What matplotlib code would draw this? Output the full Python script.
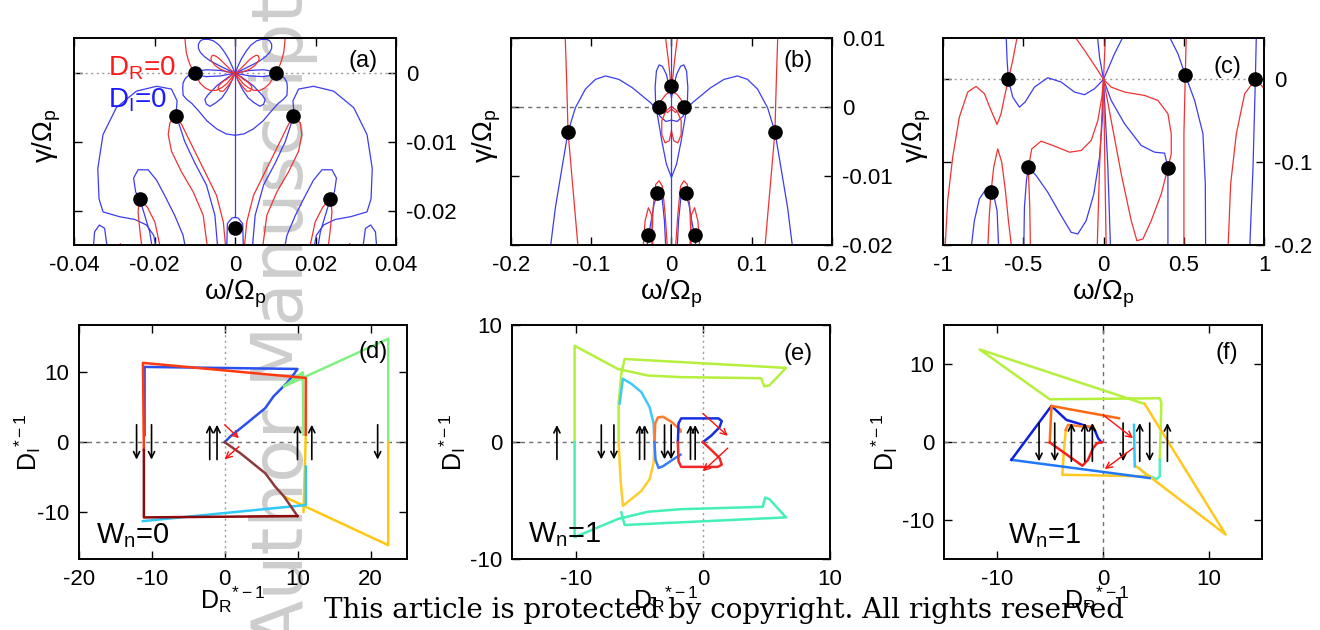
import numpy as np
import matplotlib.pyplot as plt

plt.rcParams['font.family'] = 'Liberation Sans'
plt.rcParams['mathtext.fontset'] = 'custom'
plt.rcParams['mathtext.rm'] = 'Liberation Sans'
plt.rcParams['mathtext.it'] = 'Liberation Sans'
plt.rcParams['mathtext.sf'] = 'Liberation Sans'
plt.rcParams['axes.unicode_minus'] = False

RED = '#f03232'
BLUE = '#3c3cf0'

# ---------------- (a) zero lines of D_R and D_I, left half (symmetric in omega)
a_red = [
    [(-0.0125, 0.0056), (-0.0123, 0.0040), (-0.0121, 0.0030), (-0.0116, 0.0019), (-0.0111, 0.0011),
     (-0.0100, 0.0), (-0.0093, -0.0008), (-0.0086, -0.0015), (-0.0075, -0.0021), (-0.0062, -0.0025),
     (-0.0047, -0.0025), (-0.0033, -0.0021), (-0.0020, -0.0015), (-0.0012, -0.0009), (0.0, 0.0)],
    [(0.0, 0.0), (-0.0013, 0.0006), (-0.0025, 0.0013), (-0.0037, 0.0020), (-0.0046, 0.0024),
     (-0.0053, 0.0026), (-0.0058, 0.0025), (-0.0060, 0.0021), (-0.0058, 0.0017), (-0.0049, 0.0011),
     (-0.0037, 0.0006), (-0.0020, 0.0002), (0.0, 0.0)],
    [(0.0, 0.0), (-0.0011, -0.0004), (-0.0021, -0.0009), (-0.0030, -0.0012), (-0.0037, -0.0016),
     (-0.0041, -0.0019), (-0.0042, -0.0023), (-0.0037, -0.0026), (-0.0029, -0.0026), (-0.0018, -0.0019),
     (-0.0008, -0.0011), (0.0, 0.0)],
    [(-0.0067, -0.026), (-0.0079, -0.0206), (-0.0104, -0.0172), (-0.0133, -0.0143), (-0.0158, -0.0113),
     (-0.0166, -0.0089), (-0.0162, -0.0072), (-0.0147, -0.0062), (-0.0133, -0.0074), (-0.0112, -0.0099),
     (-0.0079, -0.0138), (-0.0046, -0.0177), (-0.0029, -0.0216), (-0.0022, -0.026)],
    [(-0.0230, -0.026), (-0.0237, -0.0225), (-0.0241, -0.0201), (-0.0237, -0.0182), (-0.0218, -0.0194),
     (-0.0199, -0.0216), (-0.0183, -0.026)],
    [(-0.0295, -0.026), (-0.0285, -0.0247), (-0.0274, -0.026)],
]
a_blue = [
    [(0.0, 0.0), (-0.0037, 0.0004), (-0.0071, 0.0005), (-0.0091, 0.0003), (-0.0100, 0.0),
     (-0.0091, -0.0003), (-0.0071, -0.0005), (-0.0037, -0.0004), (0.0, 0.0)],
    [(0.0, 0.0), (-0.0015, 0.0004), (-0.0029, 0.0008), (-0.0046, 0.0013), (-0.0062, 0.0018),
     (-0.0076, 0.0024), (-0.0086, 0.0030), (-0.0091, 0.0036), (-0.0091, 0.0042), (-0.0086, 0.0047),
     (-0.0079, 0.0049), (-0.0066, 0.0049), (-0.0054, 0.0047), (-0.0040, 0.0041), (-0.0029, 0.0033),
     (-0.0016, 0.0021), (-0.0008, 0.0011), (0.0, 0.0)],
    [(0.0, 0.0), (-0.0015, -0.0005), (-0.0029, -0.0011), (-0.0045, -0.0018), (-0.0058, -0.0026),
     (-0.0068, -0.0032), (-0.0075, -0.0038), (-0.0071, -0.0045), (-0.0062, -0.0048), (-0.0048, -0.0043),
     (-0.0033, -0.0036), (-0.0020, -0.0025), (-0.0012, -0.0016), (0.0, 0.0)],
    [(-0.0100, 0.0), (-0.0115, -0.0003), (-0.0124, -0.0008), (-0.0129, -0.0014), (-0.0130, -0.0021),
     (-0.0129, -0.0032), (-0.0120, -0.0038), (-0.0107, -0.0044), (-0.0090, -0.0055), (-0.0070, -0.0069),
     (-0.0045, -0.0081), (-0.0022, -0.0088), (0.0, -0.0090)],
    [(-0.0194, -0.026), (-0.0202, -0.0235), (-0.0220, -0.0220), (-0.0249, -0.0212), (-0.0287, -0.0208),
     (-0.0328, -0.0201), (-0.0338, -0.0182), (-0.0341, -0.0138), (-0.0328, -0.0089), (-0.0295, -0.0050),
     (-0.0245, -0.0026), (-0.0195, -0.0019), (-0.0158, -0.0023), (-0.0144, -0.0040), (-0.0147, -0.0062),
     (-0.0139, -0.0074), (-0.0125, -0.0099), (-0.0100, -0.0130), (-0.0071, -0.0162), (-0.0050, -0.0206),
     (-0.0042, -0.026)],
    [(-0.0121, -0.026), (-0.0129, -0.0235), (-0.0150, -0.0206), (-0.0175, -0.0177), (-0.0195, -0.0155),
     (-0.0216, -0.0140), (-0.0241, -0.0140), (-0.0252, -0.0152), (-0.0247, -0.0172), (-0.0237, -0.0182),
     (-0.0227, -0.0201), (-0.0212, -0.0230), (-0.0204, -0.026)],
    [(-0.0353, -0.026), (-0.0349, -0.0230), (-0.0337, -0.0220), (-0.0324, -0.0225), (-0.0316, -0.026)],
    [(-0.0021, -0.026), (-0.0019, -0.0218), (-0.0008, -0.0210), (0.0, -0.0209)],
]
a_axis = [(0.0, 0.006), (0.0, -0.0209)]
a_roots = [(-0.0100, 0.0), (0.0101, 0.0), (-0.0147, -0.0062), (0.0145, -0.0062),
           (-0.0237, -0.0182), (0.0237, -0.0182), (0.0, -0.0224)]

# ---------------- (b) left half, symmetric in omega
b_red = [
    [(-0.1325, 0.0105), (-0.1305, 0.0033), (-0.1289, -0.0036), (-0.1163, -0.0205)],
    [(-0.0079, 0.0105), (-0.0038, 0.0067), (-0.0008, 0.0033), (0.0, 0.0030)],
    [(0.0, 0.0023), (-0.0071, 0.0018), (-0.0129, 0.0009), (-0.0113, -0.0003), (-0.0050, -0.0008), (0.0, -0.0003)],
    [(0.0, 0.0001), (-0.0071, -0.0006), (-0.0121, -0.0020), (-0.0121, -0.0040), (-0.0079, -0.0052),
     (-0.0029, -0.0049), (0.0, -0.0035)],
    [(-0.0354, -0.0205), (-0.0329, -0.0165), (-0.0288, -0.0146), (-0.0250, -0.0156), (-0.0229, -0.0205)],
    [(-0.0246, -0.0205), (-0.0229, -0.0146), (-0.0196, -0.0112), (-0.0154, -0.0107), (-0.0113, -0.0115),
     (-0.0079, -0.0156), (-0.0050, -0.0205)],
]
b_blue = [
    [(-0.1510, -0.0205), (-0.1447, -0.0146), (-0.1364, -0.0088), (-0.1289, -0.0036), (-0.1197, -0.0001),
     (-0.1072, 0.0026), (-0.0947, 0.0040), (-0.0822, 0.0045), (-0.0655, 0.0040), (-0.0488, 0.0028),
     (-0.0342, 0.0014), (-0.0259, 0.0006), (-0.0188, -0.0003), (-0.0163, -0.0020), (-0.0121, -0.0049),
     (-0.0063, -0.0083), (0.0, -0.0102)],
    [(0.0, 0.0014), (-0.0063, 0.0047), (-0.0113, 0.0059), (-0.0154, 0.0061), (-0.0188, 0.0052),
     (-0.0204, 0.0028), (-0.0196, 0.0001), (-0.0146, -0.0013), (-0.0071, -0.0021), (0.0, -0.0019)],
    [(-0.0309, -0.0205), (-0.0271, -0.0177), (-0.0217, -0.0141), (-0.0167, -0.0122), (-0.0121, -0.0127),
     (-0.0088, -0.0165), (-0.0071, -0.0205)],
]
b_axis = [(0.0, 0.0105), (0.0, -0.0205)]
b_roots = [(-0.1288, -0.0036), (0.1284, -0.0036), (-0.0154, 0.0), (0.0158, 0.0), (0.0, 0.0030),
           (-0.0175, -0.0124), (0.0179, -0.0124), (-0.0288, -0.0186), (0.0296, -0.0186)]

# ---------------- (c) full range, no symmetry
c_red = [
    [(-0.9875, -0.205), (-0.9709, -0.1464), (-0.9397, -0.094), (-0.8981, -0.0456), (-0.8462, -0.0153),
     (-0.7942, -0.0085), (-0.7422, -0.0173), (-0.7006, -0.0375), (-0.6632, -0.0544), (-0.6383, -0.0415),
     (-0.6175, -0.0214), (-0.5925, 0.0), (-0.5655, 0.023), (-0.5343, 0.055)],
    [(-0.7214, -0.205), (-0.711, -0.1625), (-0.7006, -0.1355), (-0.684, -0.106), (-0.659, -0.0839),
     (-0.6341, -0.1), (-0.6112, -0.1343), (-0.5925, -0.1706), (-0.5717, -0.205)],
    [(-0.4553, -0.205), (-0.4595, -0.1544), (-0.4657, -0.1222), (-0.4678, -0.106), (-0.447, -0.0839),
     (-0.3888, -0.0746), (-0.316, -0.0798), (-0.2121, -0.0879), (-0.1393, -0.0859), (-0.0769, -0.0738),
     (-0.0353, -0.0496), (-0.0104, -0.0214), (0.0, 0.0)],
    [(-0.1913, 0.055), (-0.1185, 0.0351), (-0.0353, 0.0109), (0.0, 0.0), (0.0478, -0.0093), (0.131, -0.0153),
     (0.2557, -0.0194), (0.3389, -0.0254), (0.4012, -0.0415), (0.422, -0.0657), (0.422, -0.0899),
     (0.4012, -0.1069)],
    [(0.0, 0.0), (0.0478, -0.0496), (0.1102, -0.1141), (0.1726, -0.1706), (0.2079, -0.1948), (0.2453, -0.1927),
     (0.2973, -0.1706), (0.3597, -0.1383), (0.4012, -0.1069)],
    [(0.0, 0.0), (-0.0249, -0.106), (-0.0395, -0.205)],
    [(0.0, 0.0), (0.0166, -0.205)],
    [(0.0, 0.0), (0.0125, 0.055)],
    [(0.5156, 0.055), (0.5094, 0.0052), (0.501, -0.0657), (0.501, -0.205)],
    [(0.7755, -0.205), (0.7921, -0.1262), (0.8274, -0.0657), (0.8794, -0.0173), (0.946, 0.0),
     (0.9938, -0.0093), (1.025, -0.0254)],
]
c_blue = [
    [(-0.6071, 0.055), (-0.6008, 0.023), (-0.5925, 0.0), (-0.5655, -0.0214), (-0.5239, -0.0335),
     (-0.4886, -0.0274), (-0.4304, -0.0093), (-0.3472, 0.002), (-0.264, -0.0032), (-0.1809, -0.0153),
     (-0.1185, -0.0185), (-0.0561, -0.0113), (0.0, 0.0)],
    [(-0.8254, -0.205), (-0.8046, -0.1706), (-0.7734, -0.1444), (-0.7318, -0.1323), (-0.6902, -0.1343),
     (-0.6632, -0.1585), (-0.6528, -0.205)],
    [(-0.4969, -0.205), (-0.4927, -0.1544), (-0.4802, -0.1222), (-0.4678, -0.106), (-0.42, -0.1161),
     (-0.3472, -0.1363), (-0.264, -0.1645), (-0.2017, -0.1847), (-0.1601, -0.1867), (-0.1081, -0.1706),
     (-0.0603, -0.1383), (-0.0249, -0.094), (-0.0062, -0.0456), (0.0, 0.0)],
    [(0.0, 0.0), (0.0478, -0.0254), (0.131, -0.0536), (0.2349, -0.0798), (0.3181, -0.0879), (0.3805, -0.0891),
     (0.4012, -0.1069), (0.4012, -0.1464), (0.4012, -0.205)],
    [(0.0, 0.0), (0.027, -0.106), (0.0437, -0.205)],
    [(0.0, 0.0), (-0.0249, 0.027), (-0.0395, 0.055)],
    [(0.0, 0.0), (0.0686, 0.031), (0.131, 0.055)],
    [(0.4012, 0.055), (0.4636, 0.031), (0.5094, 0.0052), (0.5676, -0.0254), (0.6195, -0.0657),
     (0.6341, -0.1262), (0.6362, -0.205)],
    [(0.9522, 0.055), (0.946, 0.0), (0.9314, -0.106), (0.9106, -0.205)],
]
c_roots = [(-0.5925, 0.0), (0.5094, 0.0052), (0.946, 0.0), (-0.4678, -0.106), (0.4012, -0.1069),
           (-0.7006, -0.1355)]

# ---------------- (d)-(f) trajectories of 1/D*, each piece with its colour
d_paths = [
    ('#2a50f0', [(0, 0), (0.77, 0.82), (3.05, 2.73), (5.56, 4.89), (6.69, 6.57), (8.52, 8.49), (9.43, 9.69),
                 (9.97, 10.50), (-10.97, 10.79), (-10.97, 1.0)]),
    ('#80f080', [(8.15, 8.01), (10.70, 10.02), (10.79, 1.06)]),
    ('#80f080', [(8.15, 8.01), (22.40, 14.82), (22.40, 0.0)]),
    ('#ffc810', [(8.15, -7.82), (22.40, -14.77), (22.40, 0.0)]),
    ('#ffc810', [(11.11, 1.06), (10.79, -9.98)]),
    ('#30c8f8', [(-11.20, -11.32), (11.11, -9.02), (11.11, -3.50)]),
    ('#ff3a10', [(-11.07, -1.10), (-11.20, 11.37), (11.11, 9.21), (11.11, 1.06)]),
    ('#8e3a3a', [(0, 0), (2.14, -1.58), (5.56, -4.46), (6.92, -6.38), (8.15, -7.82), (9.97, -10.60)]),
    ('#8c0a0a', [(9.97, -10.60), (-11.07, -10.79), (-11.07, -1.10)]),
]
d_up = [-2.05, -1.05, 9.97, 11.93]
d_down = [-12.07, -10.02, 20.95]
d_arrow_y = 2.5
d_red_arrows = [((0.0, 2.49), (1.95, 0.57)), ((1.95, -0.63), (0.0, -2.45))]

e_paths = [
    ('#b4f03c', [(-10.08, 0.0), (-10.08, 8.23), (-6.68, 6.25), (-4.32, 5.69), (-1.70, 5.55), (4.58, 5.46),
                 (4.84, 4.76), (5.24, 4.85), (6.54, 6.34), (-6.15, 7.10), (-6.41, 5.83), (-6.62, 3.30),
                 (-6.62, 0.0)]),
    ('#44f0b4', [(-10.08, 0.0), (-10.08, -8.11), (-6.68, -6.56), (-4.32, -5.94), (-1.70, -5.72), (4.71, -5.52),
                 (4.90, -4.73), (5.24, -4.87), (6.54, -6.42), (-6.15, -7.07), (-6.41, -6.0)]),
    ('#40c8f8', [(-6.54, 3.30), (-6.28, 5.41), (-5.63, 4.99), (-4.84, 4.28), (-4.19, 3.01), (-3.87, 1.61),
                 (-3.80, 0.0)]),
    ('#ffcc30', [(-3.80, 0.0), (-3.87, -1.77), (-4.19, -3.18), (-4.84, -4.17), (-5.63, -4.87), (-6.28, -5.44),
                 (-6.47, -3.18), (-6.62, 0.0)]),
    ('#ff7a30', [(-3.80, 0.0), (-3.74, 1.61), (-3.53, 2.11), (-3.14, 2.17), (-2.49, 1.75), (-1.75, 1.04),
                 (-1.75, 0.9)]),
    ('#3a7cf8', [(-3.80, 0.0), (-3.72, -1.49), (-3.48, -2.20), (-3.14, -2.06), (-2.36, -1.49), (-1.75, -1.07)]),
    ('#1430e0', [(0.0, 0.0), (0.65, 0.54), (1.31, 1.27), (1.49, 1.80), (1.23, 2.03), (-1.70, 2.03),
                 (-1.91, 1.61), (-1.96, 0.0)]),
    ('#f02828', [(0.0, 0.0), (0.65, -0.65), (1.31, -1.35), (1.49, -1.92), (1.18, -2.11), (-1.70, -2.11),
                 (-1.91, -1.63), (-1.96, 0.0)]),
]
e_up = [-11.47, -4.97, -4.58, -0.97, -0.60]
e_down = [-7.98, -6.99, -3.01, -2.49]
e_arrow_y = 1.47
e_red_arrows = [((0.0, 2.45), (1.96, 0.54)), ((1.96, -0.51), (0.0, -2.48))]

f_paths = [
    ('#b4f03c', [(3.93, 4.89), (-11.64, 11.87), (-5.03, 5.49), (5.35, 5.62), (5.50, 5.06), (5.41, 0.30),
                 (5.35, -2.26)]),
    ('#50f0c0', [(5.35, -2.26), (5.35, -4.38), (5.03, -4.72), (4.09, -4.17), (3.40, -3.32)]),
    ('#ffc820', [(3.93, 4.89), (11.57, -11.83), (3.14, -3.11)]),
    ('#ffc820', [(4.40, -4.38), (-3.84, -4.17), (-3.71, -1.40), (-3.52, 1.57)]),
    ('#2078f8', [(-8.65, -2.26), (4.40, -4.60)]),
    ('#1020e0', [(-0.16, 0.0), (-0.47, 0.51), (-0.79, 1.57), (-1.26, 1.91), (-2.20, 2.34), (-3.46, 2.85),
                 (-4.87, 4.64), (-8.65, -2.26)]),
    ('#ff6a10', [(1.51, 3.06), (-4.87, 4.64), (-5.03, -0.04)]),
    ('#ff8030', [(-3.52, 1.57), (-3.30, 2.21), (-1.89, 2.0), (-0.94, 2.0)]),
    ('#f02020', [(-5.03, -0.04), (-1.95, -3.02), (-1.42, -2.26), (-0.94, -0.77), (-0.57, -0.13), (-0.09, 0.0)]),
    ('#30c8f8', [(2.92, 2.21), (2.99, -3.11)]),
]
f_up = [-2.99, -1.73, -1.01, 3.46, 6.07]
f_down = [-6.04, -4.56, 1.89, 4.40]
f_arrow_y = 2.45
f_red_arrows = [((0.0, 3.49), (2.83, 0.51)), ((2.83, -0.77), (0.16, -3.45))]


def frame(ax, xt, xl, yt, yl, right):
    ax.set_facecolor('none')
    ax.set_xticks(xt)
    ax.set_xticklabels(xl)
    ax.set_yticks(yt)
    ax.set_yticklabels(yl)
    ax.tick_params(direction='in', length=6, width=1, top=True, right=True, left=True,
                   labelsize=16, pad=7)
    if right:
        ax.tick_params(labelleft=False, labelright=True)
    for s in ax.spines.values():
        s.set_linewidth(1.4)


def zero_lines(ax, reds, blues, axis, roots, mirror):
    for curves, col in ((blues, BLUE), (reds, RED)):
        for c in curves:
            x, y = np.array(c).T
            ax.plot(x, y, color=col, lw=0.9)
            if mirror:
                ax.plot(-x, y, color=col, lw=0.9)
    if axis is not None:
        x, y = np.array(axis).T
        ax.plot(x, y, color=BLUE, lw=0.9)
    x, y = np.array(roots).T
    ax.plot(x, y, 'o', color='k', ms=9.5, zorder=5)


def trajectories(ax, paths, up, down, ay, red_arrows):
    for col, pts in paths:
        x, y = np.array(pts).T
        ax.plot(x, y, color=col, lw=1.8, solid_joinstyle='round')
    for xa in up:
        ax.annotate('', xy=(xa, ay), xytext=(xa, -ay),
                    arrowprops=dict(arrowstyle='->', color='k', lw=1.2, mutation_scale=11,
                                    shrinkA=0, shrinkB=0))
    for xa in down:
        ax.annotate('', xy=(xa, -ay), xytext=(xa, ay),
                    arrowprops=dict(arrowstyle='->', color='k', lw=1.2, mutation_scale=11,
                                    shrinkA=0, shrinkB=0))
    for tail, head in red_arrows:
        ax.annotate('', xy=head, xytext=tail,
                    arrowprops=dict(arrowstyle='->', color='#ff1010', lw=1.0, mutation_scale=11,
                                    shrinkA=0, shrinkB=0))


fig = plt.figure(figsize=(13.2, 6.3), dpi=100)

# watermark sits underneath the panels
fig.text(303 / 1320, 1.008, 'Author Manuscript', rotation=90, rotation_mode='anchor',
         ha='right', va='baseline', fontsize=51, color='#cdcdcd', family='DejaVu Sans', zorder=-1)

omega_lbl = r'ω/Ω$_\mathrm{p}$'
gamma_lbl = r'γ/Ω$_\mathrm{p}$'
dr_lbl = r'$\mathrm{D}_\mathrm{R}{}^{*-1}$'
di_lbl = r'$\mathrm{D}_\mathrm{I}{}^{*-1}$'

# (a)
ax = fig.add_axes([0.0561, 0.6111, 0.2439, 0.3286])
ax.axhline(0, color='#9a9a9a', lw=1, ls=(0, (1.5, 2.5)))
zero_lines(ax, a_red, a_blue, a_axis, a_roots, True)
ax.set_xlim(-0.04, 0.04)
ax.set_ylim(-0.0249, 0.0051)
frame(ax, [-0.04, -0.02, 0, 0.02, 0.04], ['-0.04', '-0.02', '0', '0.02', '0.04'],
      [0, -0.01, -0.02], ['0', '-0.01', '-0.02'], True)
ax.text(-0.0316, -0.0004, r'D$_\mathrm{R}$=0', color='#ff1a1a', fontsize=20, va='baseline')
ax.text(-0.0316, -0.0050, r'D$_\mathrm{I}$=0', color='#1a1aff', fontsize=20, va='baseline')
ax.text(0.0318, 0.0018, '(a)', fontsize=17, ha='center', va='center')
ax.set_xlabel(omega_lbl, fontsize=20)
ax.set_ylabel(gamma_lbl, fontsize=20)
ax.xaxis.set_label_coords(0.5, -0.16)
ax.yaxis.set_label_coords(-0.035, 0.53)

# (b)
ax = fig.add_axes([0.3871, 0.6111, 0.2432, 0.3286])
ax.axhline(0, color='#707070', lw=1, ls=(0, (3, 3)))
zero_lines(ax, b_red, b_blue, b_axis, b_roots, True)
ax.set_xlim(-0.2, 0.2)
ax.set_ylim(-0.02, 0.01)
frame(ax, [-0.2, -0.1, 0, 0.1, 0.2], ['-0.2', '-0.1', '0', '0.1', '0.2'],
      [0.01, 0, -0.01, -0.02], ['0.01', '0', '-0.01', '-0.02'], True)
ax.text(0.1576, 0.0067, '(b)', fontsize=17, ha='center', va='center')
ax.set_xlabel(omega_lbl, fontsize=20)
ax.set_ylabel(gamma_lbl, fontsize=20)
ax.xaxis.set_label_coords(0.5, -0.16)
ax.yaxis.set_label_coords(-0.025, 0.53)

# (c)
ax = fig.add_axes([0.7144, 0.6111, 0.2432, 0.3286])
ax.axhline(0, color='#9a9a9a', lw=1, ls=(0, (1.5, 2.5)))
zero_lines(ax, c_red, c_blue, None, c_roots, False)
ax.set_xlim(-1, 1)
ax.set_ylim(-0.2, 0.05)
frame(ax, [-1, -0.5, 0, 0.5, 1], ['-1', '-0.5', '0', '0.5', '1'],
      [0, -0.1, -0.2], ['0', '-0.1', '-0.2'], True)
ax.text(0.771, 0.0149, '(c)', fontsize=17, ha='center', va='center')
ax.set_xlabel(omega_lbl, fontsize=20)
ax.set_ylabel(gamma_lbl, fontsize=20)
ax.xaxis.set_label_coords(0.5, -0.16)
ax.yaxis.set_label_coords(-0.031, 0.53)

# (d)
ax = fig.add_axes([0.0596, 0.1122, 0.2489, 0.3719])
ax.axhline(0, color='#707070', lw=1, ls=(0, (3, 3)))
ax.axvline(0, color='#9a9a9a', lw=1, ls=(0, (1.5, 2.5)))
trajectories(ax, d_paths, d_up, d_down, d_arrow_y, d_red_arrows)
ax.set_xlim(-20, 25)
ax.set_ylim(-16.8, 16.8)
frame(ax, [-20, -10, 0, 10, 20], ['-20', '-10', '0', '10', '20'],
      [-10, 0, 10], ['-10', '0', '10'], False)
ax.text(20.36, 12.95, '(d)', fontsize=17, ha='center', va='center')
ax.text(-17.67, -14.53, r'W$_\mathrm{n}$=0', fontsize=21, va='baseline')
ax.set_xlabel(dr_lbl, fontsize=18)
ax.set_ylabel(di_lbl, fontsize=18)
ax.xaxis.set_label_coords(0.47, -0.105)
ax.yaxis.set_label_coords(-0.109, 0.5)

# (e)
ax = fig.add_axes([0.3879, 0.1122, 0.2409, 0.3719])
ax.axhline(0, color='#707070', lw=1, ls=(0, (3, 3)))
ax.axvline(0, color='#9a9a9a', lw=1, ls=(0, (1.5, 2.5)))
trajectories(ax, e_paths, e_up, e_down, e_arrow_y, e_red_arrows)
ax.set_xlim(-15, 10)
ax.set_ylim(-10, 10)
frame(ax, [-10, 0, 10], ['-10', '0', '10'], [-10, 0, 10], ['-10', '0', '10'], False)
ax.text(7.46, 7.52, '(e)', fontsize=17, ha='center', va='center')
ax.text(-13.74, -8.54, r'W$_\mathrm{n}$=1', fontsize=21, va='baseline')
ax.set_xlabel(dr_lbl, fontsize=18)
ax.set_ylabel(di_lbl, fontsize=18)
ax.xaxis.set_label_coords(0.485, -0.105)
ax.yaxis.set_label_coords(-0.14, 0.5)

# (f)
ax = fig.add_axes([0.7152, 0.1122, 0.2409, 0.3719])
ax.axhline(0, color='#707070', lw=1, ls=(0, (3, 3)))
ax.axvline(0, color='#707070', lw=1, ls=(0, (3, 3)))
trajectories(ax, f_paths, f_up, f_down, f_arrow_y, f_red_arrows)
ax.set_xlim(-15, 15)
ax.set_ylim(-15, 15)
frame(ax, [-10, 0, 10], ['-10', '0', '10'], [-10, 0, 10], ['-10', '0', '10'], False)
ax.text(11.64, 11.36, '(f)', fontsize=17, ha='center', va='center')
ax.text(-8.96, -12.98, r'W$_\mathrm{n}$=1', fontsize=21, va='baseline')
ax.set_xlabel(dr_lbl, fontsize=18)
ax.set_ylabel(di_lbl, fontsize=18)
ax.xaxis.set_label_coords(0.48, -0.105)
ax.yaxis.set_label_coords(-0.14, 0.5)

fig.text(0.5485, 0.019, 'This article is protected by copyright. All rights reserved',
         ha='center', va='baseline', family='DejaVu Serif', fontsize=20, zorder=20)

fig.savefig('out.png', dpi=100)
